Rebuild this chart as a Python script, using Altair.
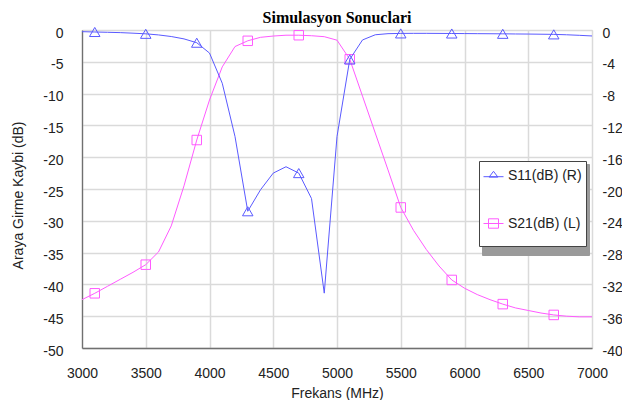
import altair as alt
import pandas as pd

# ---- data ----
freq = list(range(3000, 7001, 100))
# S11 (plotted on the right axis, dB)
s11_db = [-0.21, -0.25, -0.29, -0.33, -0.40, -0.48, -0.62, -0.82, -1.12, -1.60,
          -2.90, -6.70, -13.4, -22.8, -20.1, -18.0, -17.2, -18.0, -21.2, -33.1,
          -13.4, -3.70, -1.25, -0.60, -0.46, -0.43, -0.42, -0.42, -0.43, -0.44,
          -0.45, -0.46, -0.47, -0.48, -0.50, -0.51, -0.53, -0.55, -0.60, -0.67, -0.75]
# S21 (plotted on the left axis, dB)
s21_db = [-42.4, -41.4, -40.3, -39.2, -38.1, -36.9, -34.9, -30.8, -24.5, -17.3,
          -11.0, -5.8, -2.6, -1.7, -1.15, -0.95, -0.82, -0.82, -0.9, -1.05,
          -1.6, -4.6, -10.4, -16.2, -22.0, -27.9, -31.5, -34.5, -37.1, -39.3,
          -40.6, -41.6, -42.4, -43.1, -43.7, -44.1, -44.5, -44.8, -45.0, -45.1, -45.1]
marker_freq = [3100, 3500, 3900, 4300, 4700, 5100, 5500, 5900, 6300, 6700]
series_names = ["S11(dB) (R)", "S21(dB) (L)"]
shadow_names = ["S11(dB) (R)_", "S21(dB) (L)_"]
series_colors = ["#5a5aff", "#ff5aff"]
x_ticks = list(range(3000, 7001, 500))
left_ticks = list(range(-50, 1, 5))
right_ticks = list(range(-40, 1, 4))

df11 = pd.DataFrame({"freq": freq, "value": s11_db, "series": series_names[0]})
df21 = pd.DataFrame({"freq": freq, "value": s21_db, "series": series_names[1]})
df11m = df11[df11["freq"].isin(marker_freq)]
df21m = df21[df21["freq"].isin(marker_freq)]
df_leg = pd.concat([df11m, df21m])
df_leg["shadow"] = df_leg["series"] + "_"

FONT = "Liberation Sans"
color_scale = alt.Scale(domain=series_names, range=series_colors)
tri_path = "M-1,0.12H1M0,-0.42L0.44,0.16H-0.44Z"
sq_path = "M-1,0H1M-0.5,-0.47H0.5V0.47H-0.5Z"
shape_scale = alt.Scale(domain=series_names, range=[tri_path, sq_path])

leg_common = dict(
    orient="none", title=" ", titleOrient="bottom",
    titleFontSize=11, titlePadding=0, padding=4, rowPadding=30,
    symbolStrokeWidth=1, labelFont=FONT, labelFontSize=14, labelOffset=4, cornerRadius=0,
)
legend = alt.Legend(
    legendX=397, legendY=131, symbolSize=400, symbolOpacity=1, labelColor="#222",
    fillColor="white", strokeColor="#444", zindex=2, **leg_common,
)
shadow_legend = alt.Legend(
    legendX=400, legendY=134, symbolOpacity=0, labelOpacity=0, titleOpacity=0,
    labelExpr="slice(datum.label, 0, -1)",
    fillColor="#9a9a9a", strokeColor="#9a9a9a", zindex=1, **leg_common,
)

x_axis = alt.Axis(
    values=x_ticks, title="Frekans (MHz)", grid=True, gridColor="#dadada", gridWidth=1.5,
    ticks=False, labelPadding=18, labelFont=FONT, labelFontSize=14, labelColor="#222",
    labelFlush=False, labelExpr="'' + datum.value",
    domainColor="#707070", domainWidth=1.3,
    titleFont=FONT, titleFontSize=14, titleFontWeight="normal", titleColor="#222",
    titleX=255, titleY=49, titleBaseline="alphabetic", titleAlign="center",
)
x_enc = alt.X("freq:Q", scale=alt.Scale(domain=[3000, 7000], nice=False, zero=False), axis=x_axis)

left_axis = alt.Axis(
    values=left_ticks, orient="left", title="Araya Girme Kaybi (dB)", grid=True,
    gridColor="#dadada", gridWidth=1.5, ticks=False, labelPadding=19, labelOffset=3,
    labelExpr="'' + datum.value",
    labelFont=FONT, labelFontSize=14, labelColor="#222", domainColor="#707070", domainWidth=1.3,
    titleFont=FONT, titleFontSize=14, titleFontWeight="normal", titleColor="#222",
    titleX=-63.5, titleY=165, titleAngle=270, titleAlign="center", titleBaseline="middle",
)
right_axis = alt.Axis(
    values=right_ticks, orient="right", title=None, grid=False, ticks=False, domain=False,
    labelPadding=10, labelOffset=3, labelExpr="'' + datum.value",
    labelFont=FONT, labelFontSize=14, labelColor="#222",
)

y_left = alt.Y("value:Q", scale=alt.Scale(domain=[-50, 0], nice=False, zero=False), axis=left_axis)
y_right = alt.Y("value:Q", scale=alt.Scale(domain=[-40, 0], nice=False, zero=False), axis=right_axis)

left_line = alt.Chart(df21).mark_line(strokeWidth=1, color=series_colors[1]).encode(x=x_enc, y=y_left)
left_pts = alt.Chart(df21m).mark_point(shape="square", filled=False, size=90, strokeWidth=1,
                                       opacity=1, color=series_colors[1]).encode(x=x_enc, y=y_left)
legend_layer = alt.Chart(df_leg).mark_point(filled=False, opacity=0).encode(
    x=x_enc, y=y_left,
    color=alt.Color("series:N", scale=color_scale, legend=legend),
    shape=alt.Shape("series:N", scale=shape_scale, legend=legend),
    size=alt.Size("shadow:N", scale=alt.Scale(domain=shadow_names, range=[400, 400]),
                  legend=shadow_legend),
)
left = alt.layer(left_line, left_pts, legend_layer)

right_line = alt.Chart(df11).mark_line(strokeWidth=1, color=series_colors[0]).encode(x=x_enc, y=y_right)
right_pts = alt.Chart(df11m).mark_point(shape="triangle-up", filled=False, size=110, strokeWidth=1,
                                        opacity=1, color=series_colors[0]).encode(x=x_enc, y=y_right)
right = alt.layer(right_line, right_pts)

chart = alt.layer(left, right).resolve_scale(y="independent").properties(
    width=510, height=318,
    title=alt.TitleParams("Simulasyon Sonuclari", font="Liberation Serif", fontSize=16,
                          fontWeight="bold", anchor="middle", offset=8, dy=9,
                          color="black"),
    autosize=alt.AutoSizeParams(type="none"),
    padding={"left": 74, "top": 22, "right": 30, "bottom": 52},
).configure_view(stroke="#8a8a8a", strokeWidth=1).configure(background="white")

chart.save("out.html", embed_options={"renderer": "svg", "actions": False})
